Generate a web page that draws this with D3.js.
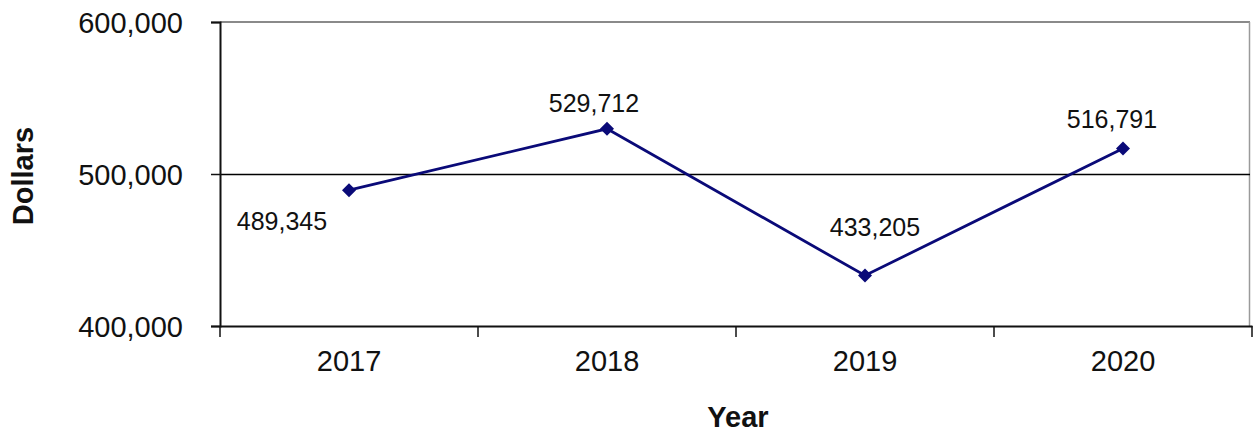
<!DOCTYPE html>
<html>
<head>
<meta charset="utf-8">
<script src="https://cdn.jsdelivr.net/npm/d3@7"></script>
<style>
  html, body { margin: 0; padding: 0; background: #fff; }
  svg { display: block; }
  text { font-family: "Liberation Sans", Arial, sans-serif; fill: #111; }
</style>
</head>
<body>
<svg id="chart" width="1253" height="437"></svg>
<script>
// ---- data ----
const years = ["2017", "2018", "2019", "2020"];
const dollars = [489345, 529712, 433205, 516791];
const yTicks = [400000, 500000, 600000];
const yTitle = "Dollars";
const xTitle = "Year";
// label placement offsets relative to each point (dx, dy of baseline)
const labelDx = [-67, -13, 10, -11];
const labelDy = [40, -17, -40, -20];

// ---- layout ----
const W = 1253, H = 437;
const m = { left: 220, right: 1252, top: 22, bottom: 326 };
const svg = d3.select("#chart");

const x = d3.scaleBand().domain(years).range([m.left, m.right]).padding(0);
const y = d3.scaleLinear().domain([400000, 600000]).range([m.bottom, m.top]);
const fmt = d3.format(",");

// plot border (top & right, gray)
svg.append("line").attr("x1", m.left).attr("x2", m.right - 2)
  .attr("y1", y(600000)).attr("y2", y(600000))
  .attr("stroke", "#8a8a8a").attr("stroke-width", 2);
svg.append("line").attr("x1", m.right - 2.5).attr("x2", m.right - 2.5)
  .attr("y1", m.top).attr("y2", m.bottom)
  .attr("stroke", "#9a9a9a").attr("stroke-width", 1.5);

// gridline at 500,000
svg.append("g").selectAll("line")
  .data(yTicks.filter(t => t !== 400000 && t !== 600000))
  .join("line")
  .attr("x1", m.left).attr("x2", m.right - 2)
  .attr("y1", d => y(d) + 0.5).attr("y2", d => y(d) + 0.5)
  .attr("stroke", "#000").attr("stroke-width", 1.3);

// y axis
const yAxis = svg.append("g")
  .attr("transform", `translate(${m.left},0)`)
  .call(d3.axisLeft(y).tickValues(yTicks).tickFormat(fmt).tickSize(9).tickPadding(28));
yAxis.select(".domain").attr("stroke", "#111").attr("stroke-width", 2);
yAxis.selectAll(".tick line").attr("stroke", "#111").attr("stroke-width", 1.5);
yAxis.selectAll(".tick text")
  .attr("font-family", "Liberation Sans, Arial, sans-serif")
  .attr("font-size", 29).attr("fill", "#111").attr("dy", "0.36em");

// x axis
const xAxis = svg.append("g")
  .attr("transform", `translate(0,${m.bottom})`)
  .call(d3.axisBottom(x).tickSize(0).tickPadding(24));
xAxis.select(".domain").attr("stroke", "#111").attr("stroke-width", 2);
xAxis.selectAll(".tick text")
  .attr("font-family", "Liberation Sans, Arial, sans-serif")
  .attr("font-size", 29).attr("fill", "#111");
// category boundary ticks
const bounds = years.map(d => x(d)).concat([x(years[years.length - 1]) + x.bandwidth()]);
svg.append("g").selectAll("line").data(bounds).join("line")
  .attr("x1", d => d).attr("x2", d => d)
  .attr("y1", m.bottom).attr("y2", m.bottom + 11)
  .attr("stroke", "#111").attr("stroke-width", 1.5);

// line
const cx = d => x(d) + x.bandwidth() / 2;
const pts = years.map((yr, i) => [cx(yr), y(dollars[i])]);
svg.append("path")
  .attr("d", d3.line()(pts))
  .attr("fill", "none").attr("stroke", "#0a0a78").attr("stroke-width", 2.8);

// markers (diamonds)
svg.append("g").selectAll("path").data(pts).join("path")
  .attr("transform", d => `translate(${d[0]},${d[1]})`)
  .attr("d", "M0,-7L7,0L0,7L-7,0Z")
  .attr("fill", "#0a0a78");

// data labels
svg.append("g").selectAll("text").data(dollars).join("text")
  .attr("x", (d, i) => pts[i][0] + labelDx[i])
  .attr("y", (d, i) => pts[i][1] + labelDy[i])
  .attr("text-anchor", "middle")
  .attr("font-size", 25)
  .text(d => fmt(d));

// axis titles
svg.append("text")
  .attr("transform", `translate(33,${(m.top + m.bottom) / 2 + 2}) rotate(-90)`)
  .attr("text-anchor", "middle")
  .attr("font-size", 29).attr("font-weight", "bold")
  .text(yTitle);
svg.append("text")
  .attr("x", (m.left + m.right) / 2 + 2).attr("y", 427)
  .attr("text-anchor", "middle")
  .attr("font-size", 29).attr("font-weight", "bold")
  .text(xTitle);
</script>
</body>
</html>
